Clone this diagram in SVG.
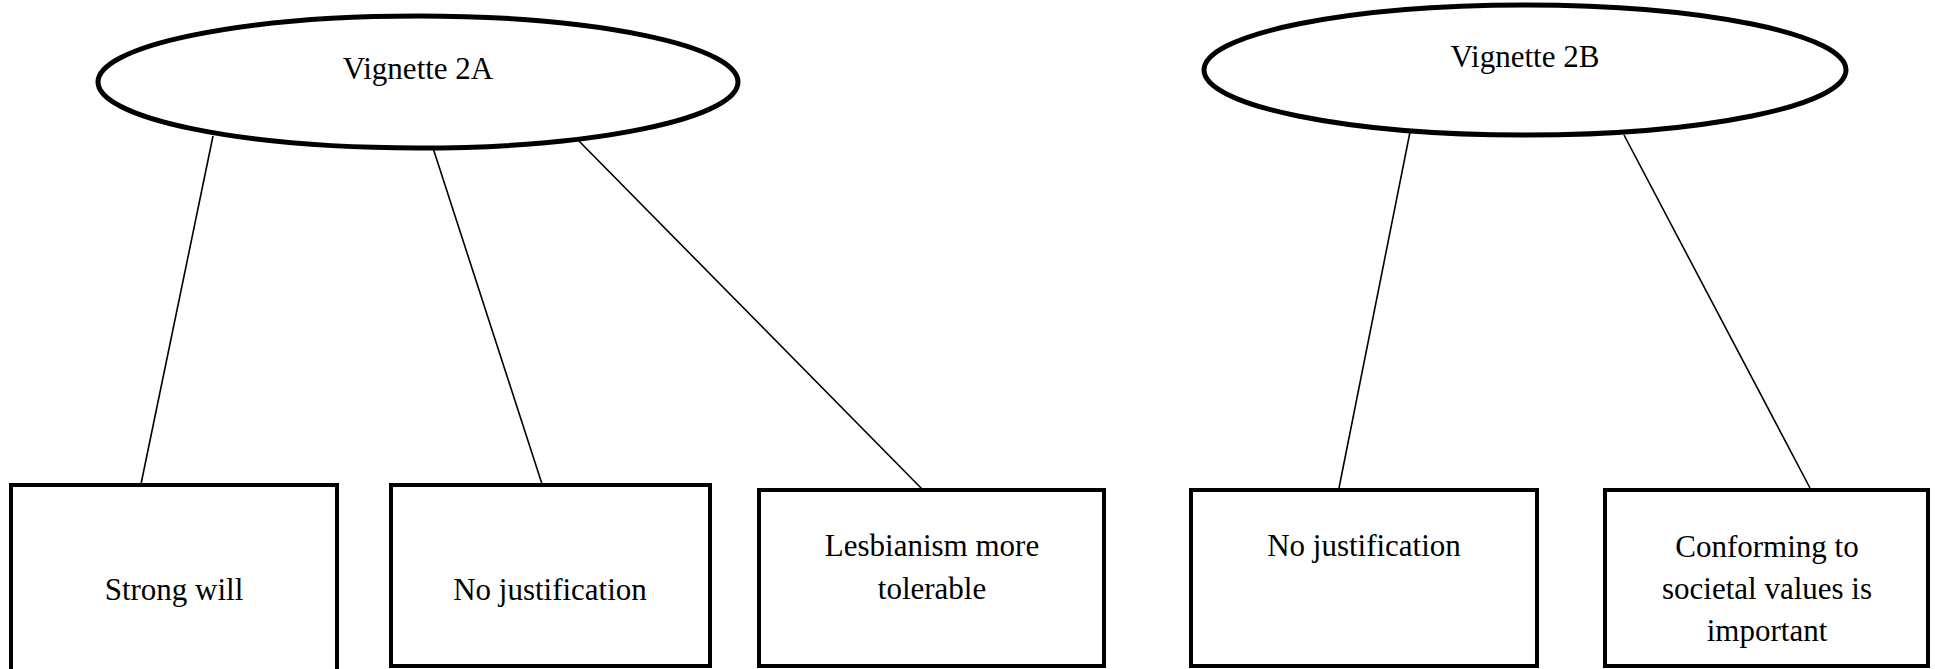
<svg xmlns="http://www.w3.org/2000/svg" width="1935" height="669" viewBox="0 0 1935 669">
<style>
.ell{fill:#fff;stroke:#000;stroke-width:5}
.box{fill:#fff;stroke:#000;stroke-width:4}
.lbl{font-family:"Liberation Serif","Times New Roman",serif;font-size:31px;fill:#000;text-anchor:middle}
.con line{stroke:#000;stroke-width:1.6}
</style>
<rect width="1935" height="669" fill="#fff"/>
<g class="con" id="connectors">
<line x1="213" y1="136" x2="141" y2="484"/>
<line x1="433" y1="148" x2="542" y2="484"/>
<line x1="576" y1="138" x2="923" y2="490"/>
<line x1="1410" y1="132" x2="1339" y2="488"/>
<line x1="1624" y1="135" x2="1810" y2="488"/>
</g>
<g id="vignette2A">
<ellipse class="ell" cx="418" cy="82" rx="320" ry="66"/>
<text class="lbl" x="418" y="79">Vignette 2A</text>
</g>
<g id="vignette2B">
<ellipse class="ell" cx="1525" cy="70" rx="321" ry="65"/>
<text class="lbl" x="1525" y="67">Vignette 2B</text>
</g>
<g id="strongWill">
<rect class="box" x="11" y="485" width="326" height="186"/>
<text class="lbl" x="174" y="600">Strong will</text>
</g>
<g id="noJustA">
<rect class="box" x="391" y="485" width="319" height="181"/>
<text class="lbl" x="550" y="600">No justification</text>
</g>
<g id="lesbianism">
<rect class="box" x="759" y="490" width="345" height="176"/>
<text class="lbl" x="932" y="556">Lesbianism more</text>
<text class="lbl" x="932" y="599">tolerable</text>
</g>
<g id="noJustB">
<rect class="box" x="1191" y="490" width="346" height="176"/>
<text class="lbl" x="1364" y="556">No justification</text>
</g>
<g id="conforming">
<rect class="box" x="1605" y="490" width="323" height="176"/>
<text class="lbl" x="1767" y="557">Conforming to</text>
<text class="lbl" x="1767" y="599">societal values is</text>
<text class="lbl" x="1767" y="641">important</text>
</g>
</svg>
